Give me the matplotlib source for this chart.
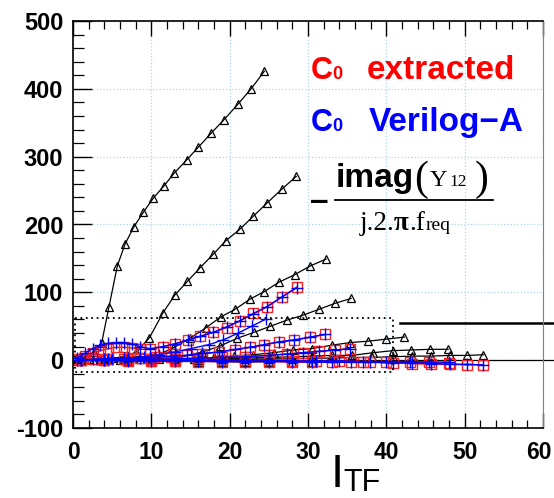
import matplotlib
matplotlib.use('Agg')
import matplotlib.pyplot as plt
from matplotlib.ticker import MultipleLocator

plt.rcParams['font.family'] = ['Liberation Sans', 'DejaVu Sans']
plt.rcParams['axes.unicode_minus'] = False

# black triangles (measured C0)
tri_x = [
    [0.5, 1.6, 2.7, 3.67, 4.6, 5.66, 6.64, 7.79, 8.98, 10.26, 11.62, 12.94, 14.5, 16.0, 17.67, 19.24, 21.03, 22.73, 24.43],
    [0.5, 2, 3.5, 5, 6.5, 8.1, 9.75, 11.5, 13.0, 14.6, 16.2, 17.9, 19.5, 21.3, 23.0, 24.8, 26.65, 28.5],
    [0.5, 2.5, 4.5, 6.5, 8.5, 10.5, 12.8, 14.9, 17.0, 18.9, 20.7, 22.6, 24.4, 26.3, 28.3, 30.3, 32.3],
    [1, 3.5, 6, 8.5, 11, 13.5, 16.5, 18.8, 20.9, 23.1, 25.2, 27.3, 29.3, 31.4, 33.5, 35.5],
    [1, 4, 7, 10, 13, 15.5, 18, 20.5, 23, 25.6, 28.1, 30.5, 33.0, 35.4, 37.7, 40.0, 42.3],
    [1, 4, 7, 10, 13, 16, 19, 22, 25, 28, 30.5, 33, 35.6, 38.3, 40.8, 43.2, 45.6, 47.9],
    [1, 4, 7, 10, 13, 16, 19, 22, 25, 28, 30.5, 33, 35.5, 38.2, 40.8, 43.3, 45.7, 48.1, 50.3, 52.4],
    [1, 4, 7, 10, 13, 16, 19, 22, 25, 28, 30.5],
]
tri_y = [
    [2, 5, 12, 26, 79, 139, 171, 197, 218, 239, 257, 276, 295, 314, 335, 354, 377, 400, 426],
    [0, 1, 2, 3, 5, 12, 33, 70, 96, 116, 136, 156, 176, 193, 212, 232, 252, 271],
    [0, 0, 1, 1, 2, 6, 18, 32, 48, 64, 75, 90, 101, 115, 126, 139, 149],
    [0, 0, 0, 1, 2, 4, 12, 21, 32, 41, 50, 59, 66, 75, 84, 91],
    [0, 0, 0, 0, 1, 2, 4, 6, 8, 11, 15, 17, 22, 26, 28, 31, 34],
    [0, 0, 0, 0, 0, 1, 2, 3, 4, 5, 6, 7, 7, 11, 14, 15, 16, 16],
    [0, 0, 0, 0, 0, 0, 1, 1, 2, 2, 3, 3, 4, 4, 5, 6, 6, 7, 7, 8],
    [0, -1, -1, -2, -2, -2, -2, -3, -2, -2, -2],
]

# red squares (C0 extracted)
red_x = [
    [0.5, 1.5, 2.5, 3.5, 4.5, 5.5, 6.5, 7.5, 8.5, 9.83, 11.5, 13.0, 14.7, 16.2, 17.9, 19.6, 21.3, 23.0, 24.8, 26.65, 28.6],
    [0.5, 2.5, 4.5, 6.5, 8.5, 10.5, 12.5, 14.5, 16.5, 18.6, 20.7, 22.6, 24.4, 26.3, 28.2, 30.3, 32.2],
    [1, 4, 7, 10, 13, 16, 19, 22, 25, 27.3, 29.3, 31.4, 33.5, 35.4],
    [1, 4, 7, 10, 13, 16, 19, 22, 25, 28, 30.5, 33, 35.5, 37.9, 40.8, 43.3, 45.7, 48.1, 50.3, 52.4],
    [1, 4, 7, 10, 13, 16, 19, 22, 25, 28, 31, 34, 37, 40, 43, 45.5, 48],
]
red_y = [
    [2, 6, 10, 14, 17, 19, 19, 18, 16, 16, 20, 24, 30, 35, 41, 48, 58, 69, 79, 93, 108],
    [0, 1, 1, 2, 3, 4, 5, 7, 9, 12, 15, 19, 22, 27, 29, 34, 38],
    [0, 0, 1, 1, 2, 3, 4, 5, 7, 9, 11, 13, 15, 17],
    [0, 0, -1, -1, -1, -2, -2, -2, -2, -3, -3, -3, -3, -3, -4, -5, -6, -6, -7, -7],
    [0, 1, 1, 1, 1, 0, 0, 0, 0, -1, -1, -1, -2, -2, -3, -3, -4],
]

# blue plus (C0 Verilog-A)
blue_x = [
    [0.5, 1.5, 2.5, 3.5, 4.5, 5.5, 6.5, 7.5, 8.5, 9.83, 11.5, 13.0, 14.7, 16.2, 17.9, 19.6, 21.3, 23.0, 24.8, 26.65, 28.6],
    [1, 3, 5, 7, 9, 11, 13, 15, 17.4, 19.2, 21.1, 22.8, 24.7],
    [0.5, 2.5, 4.5, 6.5, 8.5, 10.5, 12.5, 14.5, 16.5, 18.6, 20.7, 22.6, 24.4, 26.3, 28.2, 30.3, 32.2],
    [1, 4, 7, 10, 13, 16, 19, 22, 25, 27.3, 29.3, 31.4, 33.5, 35.4],
    [1, 4, 7, 10, 13, 16, 19, 22, 25, 28, 30.5, 33, 35.5, 37.9, 40.8, 43.3, 45.7, 48.1, 50.3, 52.4],
    [1, 4, 7, 10, 13, 16, 19, 22, 25, 28, 31, 34, 37, 40, 43, 45.5, 48],
]
blue_y = [
    [3, 10, 17, 22, 25, 26, 26, 24, 20, 17, 20, 24, 30, 35, 41, 49, 58, 68, 79, 93, 107],
    [0, 1, 2, 3, 5, 8, 12, 17, 23, 30, 40, 50, 61],
    [0, 1, 2, 3, 3, 4, 6, 7, 10, 12, 16, 19, 23, 27, 30, 34, 38],
    [0, 0, 1, 1, 2, 3, 4, 5, 7, 9, 11, 13, 15, 17],
    [0, 0, -1, -1, -1, -1, -2, -2, -2, -2, -3, -3, -3, -3, -4, -4, -5, -6, -6, -7],
    [0, 1, 1, 1, 0, 0, 0, 0, 0, -1, -1, -1, -2, -2, -2, -3, -3],
]

W, H = 554, 498
fig = plt.figure(figsize=(W / 100, H / 100), dpi=100)
ax = fig.add_axes([73 / W, 1 - 428 / H, 470 / W, 407 / H])

for xs, ys in zip(tri_x, tri_y):
    ax.plot(xs, ys, color='black', lw=0.9, marker='^', ms=6, mfc='none', mec='black', mew=0.9)
for xs, ys in zip(red_x, red_y):
    ax.plot(xs, ys, color='red', lw=1.0, marker='s', ms=7, mfc='none', mec='#ff2020', mew=1.0)
for xs, ys in zip(blue_x, blue_y):
    ax.plot(xs, ys, color='blue', lw=1.0, marker='+', ms=8, mew=1.0)

# zero line and zoom box
ax.plot([0, 70], [0, 0], color='black', lw=0.9, clip_on=False, zorder=1)
ax.plot([0.3, 40.8, 40.8, 0.3, 0.3], [62, 62, -17.5, -17.5, 62], color='black', lw=1.3, ls=(0, (1, 2)))
ax.plot([41.8, 61.5], [55, 55], color='black', lw=1.8, clip_on=False)

ax.set_xlim(0, 60)
ax.set_ylim(-100, 500)
ax.set_xticks([0, 10, 20, 30, 40, 50, 60], ['0', '10', '20', '30', '40', '50', ''])
ax.xaxis.set_minor_locator(MultipleLocator(2))
ax.yaxis.set_major_locator(MultipleLocator(100))
ax.yaxis.set_minor_locator(MultipleLocator(20))
ax.grid(True, which='major', color='#a9d6f0', ls=':', lw=0.9)
ax.set_axisbelow(True)
ax.tick_params(axis='x', which='both', direction='in', top=True, bottom=True, labelsize=16.5, pad=9)
ax.tick_params(axis='x', which='major', length=11, width=1.0)
ax.tick_params(axis='x', which='minor', length=6, width=0.9)
ax.tick_params(axis='y', which='both', direction='in', left=True, right=False, labelsize=17, pad=7)
ax.tick_params(axis='y', which='major', length=14, width=1.0)
ax.tick_params(axis='y', which='minor', length=8, width=0.9)
for lab in ax.get_xticklabels() + ax.get_yticklabels():
    lab.set_fontweight('bold')
for s in ['left', 'bottom', 'top']:
    ax.spines[s].set_linewidth(1.2)
ax.spines['right'].set_color('#808080')

# the "60" label sits just inside the right edge in the original
fig.canvas.draw()
bb = ax.get_xticklabels()[-2].get_window_extent()
fig.text(552 / W, bb.y0 / H, '60', fontsize=16.5, fontweight='bold', ha='right', va='bottom')


def px(x, y, s, **kw):
    fig.text(x / W, 1 - y / H, s, **kw)


# x label
px(331, 497, 'I', fontsize=34, va='bottom')
px(343, 498, 'TF', fontsize=22, va='bottom')

# legend texts
px(311, 79, 'C', fontsize=22, fontweight='bold', color='red', va='baseline')
px(332, 79, '0', fontsize=13, fontweight='bold', color='red', va='baseline')
px(367, 79, 'extracted', fontsize=24, fontweight='bold', color='red', va='baseline')
px(311, 131, 'C', fontsize=22, fontweight='bold', color='blue', va='baseline')
px(332, 131, '0', fontsize=13, fontweight='bold', color='blue', va='baseline')
px(369, 131, 'Verilog\u2212A', fontsize=24, fontweight='bold', color='blue', va='baseline')

# formula
serif = ['Liberation Serif', 'DejaVu Serif']
px(310, 210, '\u2013', fontsize=24, fontweight='bold', va='baseline')
px(336, 187, 'imag', fontsize=24, fontweight='bold', va='baseline')
px(414, 190, '(', fontsize=30, family=serif, va='baseline')
px(430, 186, 'Y', fontsize=17.5, family=serif, va='baseline')
px(449, 186, '12', fontsize=12.5, family=serif, va='baseline')
px(475, 190, ')', fontsize=30, family=serif, va='baseline')
fig.add_artist(plt.Line2D([335 / W, 493 / W], [1 - 200 / H, 1 - 200 / H], color='black', lw=1.3))
px(360, 230, 'j.2.', fontsize=19.5, family=serif, va='baseline')
px(394, 230, '\u03c0', fontsize=19.5, family=serif, fontweight='bold', va='baseline')
px(409, 230, '.f', fontsize=19.5, family=serif, va='baseline')
px(426, 230, 'req', fontsize=14, family=serif, va='baseline')

fig.savefig('out.png', dpi=100)
